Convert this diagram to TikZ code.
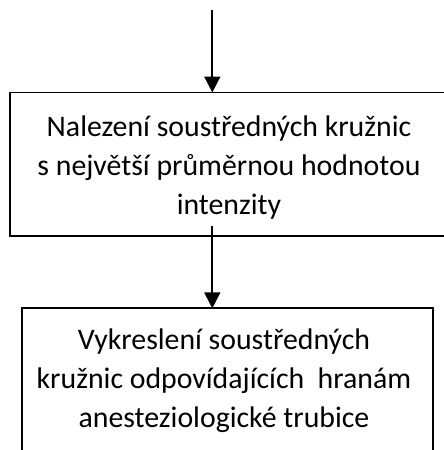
\documentclass[tikz,border=0pt]{standalone}
\usepackage{fontspec}
\setmainfont{Carlito}
\usetikzlibrary{arrows.meta}
\begin{document}
\begin{tikzpicture}[x=1pt,y=-1pt,
  boxst/.style={draw,line width=1.8pt,inner sep=0pt,outer sep=0pt,anchor=north west},
  txt/.style={align=center,font=\fontsize{29.8}{39}\selectfont,inner sep=0pt},
  arr/.style={line width=1.8pt,-{Triangle[width=16pt,length=16pt]}}]
\clip (0,0) rectangle (444,450);
\node[boxst,minimum width=440pt,minimum height=143.5pt] (b1) at (10,92.5) {};
\node[boxst,minimum width=411pt,minimum height=170pt] (b2) at (21.7,308.3) {};
\node[txt] (t1) at (229,168) {Nalezení soustředných kružnic\\s největší průměrnou hodnotou\\intenzity};
\node[txt] (t2) at (224,381) {Vykreslení soustředných\\kružnic odpovídajících\ \ hranám\\anesteziologické trubice};
\coordinate (s1) at (212.3,10);
\coordinate (s2) at (212.3,226);
\draw[arr] (s1) -- (s1 |- b1.north);
\draw[arr] (s2) -- (s2 |- b2.north);
\end{tikzpicture}
\end{document}
